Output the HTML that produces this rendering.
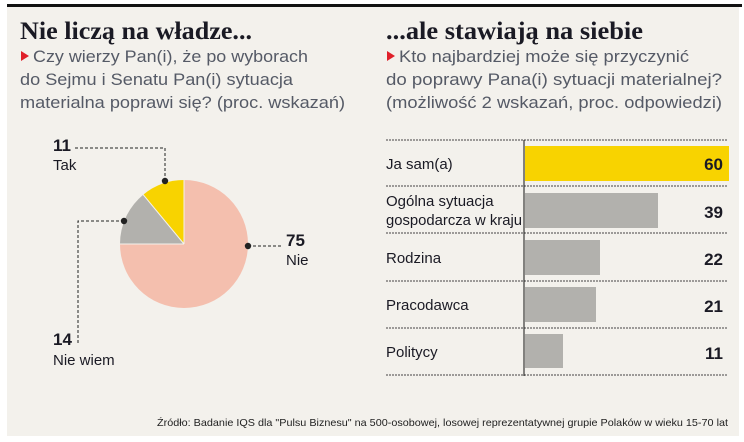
<!DOCTYPE html>
<html><head><meta charset="utf-8"><style>
html,body{margin:0;padding:0;background:#fff;}
svg{display:block;}
</style></head><body>
<svg width="744" height="442" viewBox="0 0 744 442" xmlns="http://www.w3.org/2000/svg">
<rect x="0" y="0" width="744" height="442" fill="#fff"/>
<rect x="7" y="6" width="732" height="430" fill="#f3f1ec"/>
<rect x="7" y="4" width="735" height="3" fill="#111"/>
<g font-family="Liberation Serif, serif" font-weight="bold" font-size="25" fill="#1a1a24">
<text x="20" y="39" textLength="232" lengthAdjust="spacingAndGlyphs">Nie liczą na władze...</text>
<text x="386" y="39" textLength="257" lengthAdjust="spacingAndGlyphs">...ale stawiają na siebie</text>
</g>
<g font-family="Liberation Sans, sans-serif" font-size="16.5" fill="#555a66">
<polygon points="21,51 21,61 29,56" fill="#e0202a"/>
<text x="33" y="62" textLength="275" lengthAdjust="spacingAndGlyphs">Czy wierzy Pan(i), że po wyborach</text>
<text x="20" y="85" textLength="273" lengthAdjust="spacingAndGlyphs">do Sejmu i Senatu Pan(i) sytuacja</text>
<text x="20" y="108" textLength="325" lengthAdjust="spacingAndGlyphs">materialna poprawi się? (proc. wskazań)</text>
<polygon points="387,51 387,61 395,56" fill="#e0202a"/>
<text x="399" y="62" textLength="290" lengthAdjust="spacingAndGlyphs">Kto najbardziej może się przyczynić</text>
<text x="386" y="85" textLength="336" lengthAdjust="spacingAndGlyphs">do poprawy Pana(i) sytuacji materialnej?</text>
<text x="386" y="108" textLength="336" lengthAdjust="spacingAndGlyphs">(możliwość 2 wskazań, proc. odpowiedzi)</text>
</g>
<!-- pie -->
<path d="M184,244 L184,180 A64,64 0 1 1 120,244 Z" fill="#f4bfae"/>
<path d="M184,244 L120,244 A64,64 0 0 1 143.2,194.7 Z" fill="#b2b1ad"/>
<path d="M184,244 L143.2,194.7 A64,64 0 0 1 184,180 Z" fill="#f8d300"/>
<path d="M184,244 L143.2,194.7 M184,244 L120,244 M184,244 L184,180" stroke="#f3f1ec" stroke-width="1"/>
<g stroke="#222" stroke-width="1" stroke-dasharray="3,2" fill="none">
<path d="M75,148 H165 V181"/>
<path d="M124,221 H78 V345"/>
<path d="M248,246 H282"/>
</g>
<g fill="#222"><circle cx="165" cy="181" r="3.2"/><circle cx="124" cy="221" r="3.2"/><circle cx="248" cy="246" r="3.2"/></g>
<g font-family="Liberation Sans, sans-serif" fill="#1a1a24">
<text x="53" y="151" font-size="17" font-weight="bold">11</text>
<text x="53" y="170" font-size="15">Tak</text>
<text x="286" y="246" font-size="17" font-weight="bold">75</text>
<text x="286" y="265" font-size="15">Nie</text>
<text x="53" y="345" font-size="17" font-weight="bold">14</text>
<text x="53" y="365" font-size="15">Nie wiem</text>
</g>
<!-- bars -->
<g stroke="#444" stroke-width="1" stroke-dasharray="2,1">
<line x1="386" y1="140" x2="728" y2="140"/>
<line x1="386" y1="186" x2="728" y2="186"/>
<line x1="386" y1="233" x2="728" y2="233"/>
<line x1="386" y1="281" x2="728" y2="281"/>
<line x1="386" y1="328" x2="728" y2="328"/>
<line x1="386" y1="375" x2="728" y2="375"/>
</g>
<rect x="525" y="146" width="204" height="35" fill="#f8d300"/>
<rect x="525" y="193" width="133" height="35" fill="#b2b1ad"/>
<rect x="525" y="240" width="75" height="35" fill="#b2b1ad"/>
<rect x="525" y="287" width="71" height="35" fill="#b2b1ad"/>
<rect x="525" y="334" width="38" height="34" fill="#b2b1ad"/>
<line x1="524" y1="140" x2="524" y2="376" stroke="#111" stroke-width="1"/>
<g font-family="Liberation Sans, sans-serif" font-size="15" fill="#1a1a24">
<text x="386" y="169">Ja sam(a)</text>
<text x="386" y="206">Ogólna sytuacja</text>
<text x="386" y="225" textLength="136" lengthAdjust="spacingAndGlyphs">gospodarcza w kraju</text>
<text x="386" y="263">Rodzina</text>
<text x="386" y="310">Pracodawca</text>
<text x="386" y="357">Politycy</text>
</g>
<g font-family="Liberation Sans, sans-serif" font-size="17" font-weight="bold" fill="#1a1a24" text-anchor="end">
<text x="723" y="170">60</text>
<text x="723" y="218">39</text>
<text x="723" y="265">22</text>
<text x="723" y="312">21</text>
<text x="723" y="359">11</text>
</g>
<text x="157" y="426" font-family="Liberation Sans, sans-serif" font-size="10.5" fill="#222" textLength="571" lengthAdjust="spacingAndGlyphs">Źródło: Badanie IQS dla "Pulsu Biznesu" na 500-osobowej, losowej reprezentatywnej grupie Polaków w wieku 15-70 lat</text>
</svg>
</body></html>
